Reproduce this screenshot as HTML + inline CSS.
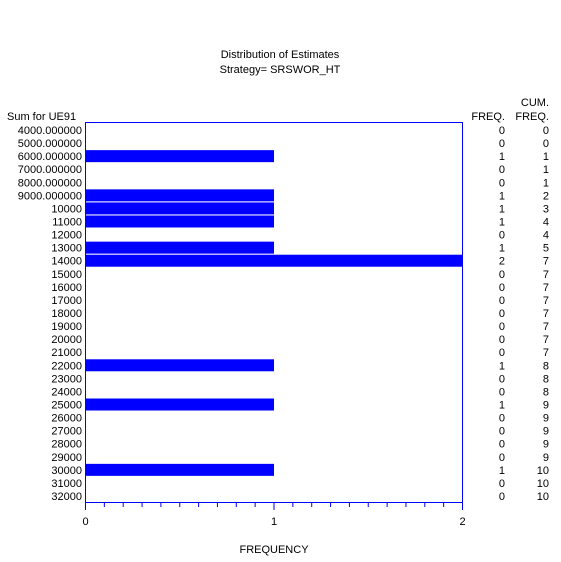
<!DOCTYPE html>
<html><head><meta charset="utf-8"><style>
body{margin:0;background:#fff;}
svg{display:block;font-family:"Liberation Sans",sans-serif;font-size:11px;}
</style></head><body>
<svg id="c" width="561" height="562">
<text x="280" y="58" text-anchor="middle">Distribution of Estimates</text>
<text x="280" y="73" text-anchor="middle">Strategy= SRSWOR_HT</text>
<text x="7" y="120">Sum for UE91</text>
<text x="505" y="120" text-anchor="end">FREQ.</text>
<text x="549" y="106" text-anchor="end">CUM.</text>
<text x="549" y="120" text-anchor="end">FREQ.</text>
<text x="274" y="553" text-anchor="middle">FREQUENCY</text>
<g id="marks"></g>
<rect x="85.5" y="122.5" width="377" height="380" fill="none" stroke="#0000ff" stroke-width="1"/>
</svg>
<script>
const categories=["4000.000000","5000.000000","6000.000000","7000.000000","8000.000000","9000.000000","10000","11000","12000","13000","14000","15000","16000","17000","18000","19000","20000","21000","22000","23000","24000","25000","26000","27000","28000","29000","30000","31000","32000"];
const freq=[0,0,1,0,0,1,1,1,0,1,2,0,0,0,0,0,0,0,1,0,0,1,0,0,0,0,1,0,0];
const xTicks=[0,1,2];
const NS="http://www.w3.org/2000/svg";
const g=document.getElementById('marks');
const x0=85.5,x1=462.5,xMax=2;
const xs=v=>x0+(x1-x0)*v/xMax;
const rowTop=130,rowStep=(496-130)/(categories.length-1);
const ys=i=>rowTop+i*rowStep;
function mk(t,a){const e=document.createElementNS(NS,t);for(const k in a)e.setAttribute(k,a[k]);g.appendChild(e);return e;}
let cum=0;
categories.forEach((c,i)=>{
  const y=ys(i);
  const l=mk('text',{x:82,y:y+4,'text-anchor':'end'});l.textContent=c;
  
  
  if(freq[i]>0){
    const r=mk('rect',{x:x0,y:y-6,width:xs(freq[i])-x0,height:12,fill:'#0000ff'});
    
    
  }
  cum+=freq[i];
  const f=mk('text',{x:505,y:y+4,'text-anchor':'end'});f.textContent=freq[i];
  
  
  const cf=mk('text',{x:549,y:y+4,'text-anchor':'end'});cf.textContent=cum;
  
  
});
for(let k=0;k<=xMax*10;k++){
  const x=xs(k/10);const major=k%10===0;
  const t=mk('line',{x1:x,x2:x,y1:502.5,y2:major?510:507,stroke:'#0000ff'});
  
  
}
xTicks.forEach(v=>{
  const t=mk('text',{x:xs(v),y:525,'text-anchor':'middle'});t.textContent=v;
  
  
});
</script>
</body></html>
